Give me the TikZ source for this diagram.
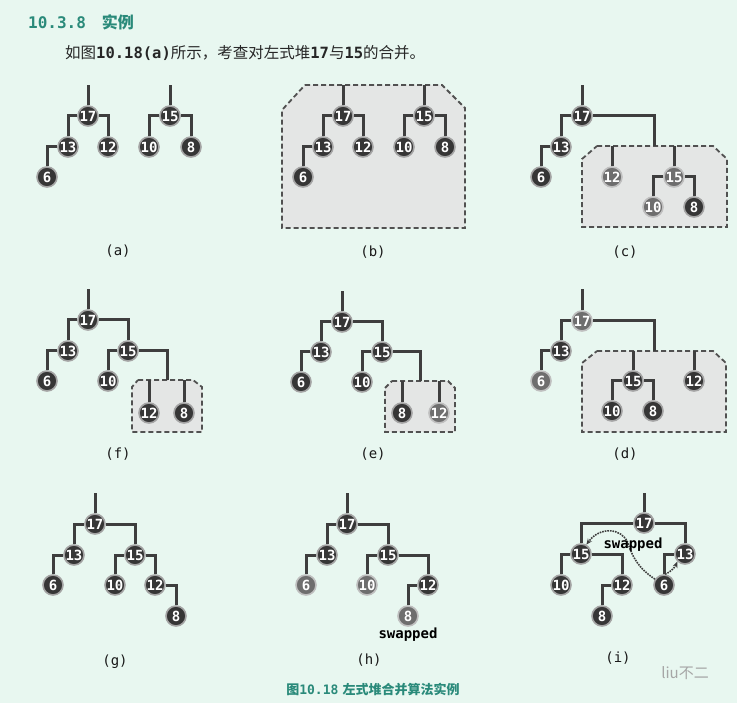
\documentclass[tikz,border=0pt]{standalone}
\usepackage{fontspec}
\setmonofont{DejaVu Sans Mono}
\newfontfamily\cjk{Noto Sans CJK SC}
\usetikzlibrary{arrows.meta}
\definecolor{bgmint}{HTML}{E8F7F0}
\definecolor{titleteal}{HTML}{2A8A7A}
\definecolor{nodedark}{HTML}{363636}
\definecolor{nodefade}{HTML}{6E6E6E}
\definecolor{ringgray}{HTML}{A4A4A4}
\definecolor{edgegray}{HTML}{3E3E3E}
\definecolor{boxfill}{HTML}{E4E6E5}

\begin{document}
\begin{tikzpicture}[x=1pt, y=-1pt,
    hnode/.style={circle, fill=nodedark, draw=ringgray, line width=1.6pt,
        minimum size=20pt, inner sep=0pt, text=white,
        font=\ttfamily\bfseries\fontsize{14}{14}\selectfont},
    hfade/.style={hnode, fill=nodefade, draw=ringgray!70},
    edge/.style={draw=edgegray, line width=3pt},
    subheap/.style={fill=boxfill, draw=edgegray!90, dash pattern=on 5pt off 3pt, line width=1.8pt},
    panel/.style={font=\ttfamily\fontsize{14}{14}\selectfont, text=black!90},
    swapnote/.style={font=\ttfamily\bfseries\fontsize{14}{14}\selectfont, text=black},
    swaparrow/.style={draw=edgegray, densely dotted, line width=1.6pt,
        -{Stealth[length=6pt, width=5pt]}}]

    % Background
    \fill[bgmint] (0,0) rectangle (737,703);
    \useasboundingbox (0,0) rectangle (737,703);

    % Title and text
    \node[anchor=west, text=titleteal, inner sep=0pt] (title) at (28,22)
        {\ttfamily\bfseries\fontsize{16}{16}\selectfont 10.3.8\quad{\cjk\bfseries 实例}};
    \node[anchor=west, text=black!85, inner sep=0pt] (intro) at (65,53)
        {\fontsize{15.5}{16}\selectfont{\cjk 如图}{\ttfamily\bfseries 10.18(a)}{\cjk 所示，考查对左式堆}{\ttfamily\bfseries 17}{\cjk 与}{\ttfamily\bfseries 15}{\cjk 的合并。}};

    % (a) two heaps
    \node[hnode] (a17) at (88,116) {17};
    \node[hnode] (a13) at (68,147) {13};
    \node[hnode] (a12) at (108,147) {12};
    \node[hnode] (a6) at (47,177) {6};
    \node[hnode] (a15) at (170,116) {15};
    \node[hnode] (a10) at (149,147) {10};
    \node[hnode] (a8) at (191,147) {8};
    \coordinate (a17top) at (88,85);
    \coordinate (a15top) at (170,85);
    \draw[edge] (a17) -- (a17top);
    \draw[edge] (a17) -| (a13);
    \draw[edge] (a17) -| (a12);
    \draw[edge] (a13) -| (a6);
    \draw[edge] (a15) -- (a15top);
    \draw[edge] (a15) -| (a10);
    \draw[edge] (a15) -| (a8);
    \node[panel] (la) at (118,251) {(a)};

    % (b) both heaps in one box
    \draw[subheap] (305,85) -- (442,85) -- (465,108) -- (465,228) -- (282,228) -- (282,110) -- cycle;
    \node[hnode] (b17) at (343,116) {17};
    \node[hnode] (b13) at (323,147) {13};
    \node[hnode] (b12) at (363,147) {12};
    \node[hnode] (b6) at (303,177) {6};
    \node[hnode] (b15) at (424,116) {15};
    \node[hnode] (b10) at (404,147) {10};
    \node[hnode] (b8) at (445,147) {8};
    \coordinate (b17top) at (343,85);
    \coordinate (b15top) at (424,85);
    \draw[edge] (b17) -- (b17top);
    \draw[edge] (b17) -| (b13);
    \draw[edge] (b17) -| (b12);
    \draw[edge] (b13) -| (b6);
    \draw[edge] (b15) -- (b15top);
    \draw[edge] (b15) -| (b10);
    \draw[edge] (b15) -| (b8);
    \node[panel] (lb) at (373,252) {(b)};

    % (c) merge 12 with 15
    \draw[subheap] (597,146) -- (713,146) -- (727,159) -- (727,227) -- (582,227) -- (582,159) -- cycle;
    \node[hnode] (c17) at (582,116) {17};
    \node[hnode] (c13) at (561,147) {13};
    \node[hnode] (c6) at (541,177) {6};
    \node[hfade] (c12) at (612,177) {12};
    \node[hfade] (c15) at (674,177) {15};
    \node[hfade] (c10) at (653,207) {10};
    \node[hnode] (c8) at (694,207) {8};
    \coordinate (c17top) at (582,85);
    \coordinate (cbox) at (654,146);
    \draw[edge] (c17) -- (c17top);
    \draw[edge] (c17) -| (c13);
    \draw[edge] (c13) -| (c6);
    \draw[edge] (c17) -| (cbox);
    \draw[edge] (c12) -- (c12 |- cbox);
    \draw[edge] (c15) -- (c15 |- cbox);
    \draw[edge] (c15) -| (c10);
    \draw[edge] (c15) -| (c8);
    \node[panel] (lc) at (625,252) {(c)};

    % (d) merge 15 with 12
    \draw[subheap] (597,351) -- (713,351) -- (726,363) -- (726,432) -- (582,432) -- (582,363) -- cycle;
    \node[hfade] (d17) at (582,321) {17};
    \node[hnode] (d13) at (561,351) {13};
    \node[hfade] (d6) at (541,381) {6};
    \node[hnode] (d15) at (633,381) {15};
    \node[hnode] (d12) at (694,381) {12};
    \node[hnode] (d10) at (612,411) {10};
    \node[hnode] (d8) at (653,411) {8};
    \coordinate (d17top) at (582,289);
    \coordinate (dbox) at (654,351);
    \draw[edge] (d17) -- (d17top);
    \draw[edge] (d17) -| (d13);
    \draw[edge] (d13) -| (d6);
    \draw[edge] (d17) -| (dbox);
    \draw[edge] (d15) -- (d15 |- dbox);
    \draw[edge] (d12) -- (d12 |- dbox);
    \draw[edge] (d15) -| (d10);
    \draw[edge] (d15) -| (d8);
    \node[panel] (ld) at (625,454) {(d)};

    % (e) merge 8 with 12
    \draw[subheap] (392,381) -- (448,381) -- (455,388) -- (455,432) -- (385,432) -- (385,388) -- cycle;
    \node[hnode] (e17) at (342,322) {17};
    \node[hnode] (e13) at (321,352) {13};
    \node[hnode] (e6) at (301,382) {6};
    \node[hnode] (e15) at (382,352) {15};
    \node[hnode] (e10) at (362,382) {10};
    \node[hnode] (e8) at (402,413) {8};
    \node[hfade] (e12) at (439,413) {12};
    \coordinate (e17top) at (342,291);
    \coordinate (ebox) at (420,381);
    \draw[edge] (e17) -- (e17top);
    \draw[edge] (e17) -| (e13);
    \draw[edge] (e13) -| (e6);
    \draw[edge] (e17) -| (e15);
    \draw[edge] (e15) -| (e10);
    \draw[edge] (e15) -| (ebox);
    \draw[edge] (e8) -- (e8 |- ebox);
    \draw[edge] (e12) -- (e12 |- ebox);
    \node[panel] (le) at (373,454) {(e)};

    % (f) merge 12 with 8
    \draw[subheap] (138,380) -- (193,380) -- (202,387) -- (202,432) -- (132,432) -- (132,387) -- cycle;
    \node[hnode] (f17) at (88,320) {17};
    \node[hnode] (f13) at (68,351) {13};
    \node[hnode] (f6) at (47,381) {6};
    \node[hnode] (f15) at (128,351) {15};
    \node[hnode] (f10) at (108,381) {10};
    \node[hnode] (f12) at (149,413) {12};
    \node[hnode] (f8) at (184,413) {8};
    \coordinate (f17top) at (88,289);
    \coordinate (fbox) at (167,380);
    \draw[edge] (f17) -- (f17top);
    \draw[edge] (f17) -| (f13);
    \draw[edge] (f13) -| (f6);
    \draw[edge] (f17) -| (f15);
    \draw[edge] (f15) -| (f10);
    \draw[edge] (f15) -| (fbox);
    \draw[edge] (f12) -- (f12 |- fbox);
    \draw[edge] (f8) -- (f8 |- fbox);
    \node[panel] (lf) at (118,454) {(f)};

    % (g) after merging
    \node[hnode] (g17) at (95,524) {17};
    \node[hnode] (g13) at (74,555) {13};
    \node[hnode] (g6) at (53,585) {6};
    \node[hnode] (g15) at (135,555) {15};
    \node[hnode] (g10) at (115,585) {10};
    \node[hnode] (g12) at (155,585) {12};
    \node[hnode] (g8) at (176,616) {8};
    \coordinate (g17top) at (95,493);
    \draw[edge] (g17) -- (g17top);
    \draw[edge] (g17) -| (g13);
    \draw[edge] (g13) -| (g6);
    \draw[edge] (g17) -| (g15);
    \draw[edge] (g15) -| (g10);
    \draw[edge] (g15) -| (g12);
    \draw[edge] (g12) -| (g8);
    \node[panel] (lg) at (115,662) {(g)};

    % (h) 8 swapped under 12
    \node[hnode] (h17) at (347,524) {17};
    \node[hnode] (h13) at (327,555) {13};
    \node[hfade] (h6) at (306,585) {6};
    \node[hnode] (h15) at (388,555) {15};
    \node[hfade] (h10) at (367,585) {10};
    \node[hnode] (h12) at (428,585) {12};
    \node[hfade] (h8) at (408,616) {8};
    \coordinate (h17top) at (347,493);
    \draw[edge] (h17) -- (h17top);
    \draw[edge] (h17) -| (h13);
    \draw[edge] (h13) -| (h6);
    \draw[edge] (h17) -| (h15);
    \draw[edge] (h15) -| (h10);
    \draw[edge] (h15) -| (h12);
    \draw[edge] (h12) -| (h8);
    \node[swapnote] (hswap) at (408,635) {swapped};
    \node[panel] (lh) at (369,660) {(h)};

    % (i) subtrees of 17 swapped
    \node[hnode] (i17) at (644,523) {17};
    \node[hnode] (i15) at (581,554) {15};
    \node[hnode] (i13) at (685,554) {13};
    \node[hnode] (i10) at (561,585) {10};
    \node[hnode] (i12) at (622,585) {12};
    \node[hnode] (i8) at (602,616) {8};
    \node[hnode] (i6) at (664,585) {6};
    \coordinate (i17top) at (644,493);
    \draw[edge] (i17) -- (i17top);
    \draw[edge] (i17) -| (i15);
    \draw[edge] (i17) -| (i13);
    \draw[edge] (i15) -| (i10);
    \draw[edge] (i15) -| (i12);
    \draw[edge] (i12) -| (i8);
    \draw[edge] (i13) -| (i6);
    \draw[swaparrow] (i6.147) .. controls (638,568) and (632,556) .. (628,543)
        .. controls (622,528) and (600,526) .. (i15.60);
    \draw[swaparrow] (i6.84) .. controls (672,571) and (675,567) .. (i13.225);
    \node[swapnote] (iswap) at (633,545) {swapped};
    \node[panel] (li) at (618,658) {(i)};

    % Watermark
    \node[text=black!35, font=\fontsize{15}{15}\selectfont] (mark) at (685,673) {\cjk liu不二};

    % Caption
    \node[text=titleteal, inner sep=0pt] (caption) at (373,690)
        {\fontsize{13}{13}\selectfont{\cjk\bfseries 图}{\ttfamily\bfseries 10.18}\ {\cjk\bfseries 左式堆合并算法实例}};

\end{tikzpicture}
\end{document}
